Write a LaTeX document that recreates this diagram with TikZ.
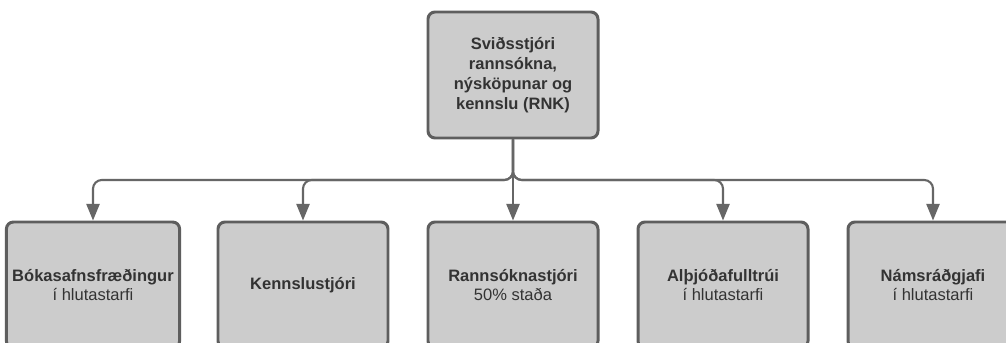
\documentclass[tikz,border=0pt]{standalone}
\usepackage{fontspec}
\setmainfont{Liberation Sans}
\usetikzlibrary{arrows.meta}
\definecolor{kassi}{HTML}{CCCCCC}
\definecolor{rammi}{HTML}{5E5E5E}
\definecolor{lina}{HTML}{666666}
\definecolor{letur}{HTML}{333333}

\begin{document}
\begin{tikzpicture}[line join=round,
    starf/.style={draw=rammi, fill=kassi, line width=1.7pt, rounded corners=4pt,
      minimum width=3.4cm, minimum height=2.52cm, align=center, text=letur,
      font=\fontsize{9.4}{11.3}\selectfont},
    tengi/.style={draw=lina, line width=1.2pt, rounded corners=5pt,
      -{Triangle[length=9.5pt, width=7.5pt]}}]
  \clip (0,0) rectangle (20.12,-6.84);
  \fill[white] (0,0) rectangle (20.12,-6.84);

  % Sviðsstjóri efst
  \node[starf] (svid) at (10.26,-1.5) {\textbf{Sviðsstjóri}\\\textbf{rannsókna,}\\\textbf{nýsköpunar og}\\\textbf{kennslu (RNK)}};
  \coordinate (greining) at (10.26,-3.6);

  % Starfsfólk undir
  \node[starf] (bokasafn) at (1.86,-5.7) {\textbf{Bókasafnsfræðingur}\\í hlutastarfi};
  \node[starf] (kennslu) at (6.06,-5.7) {\textbf{Kennslustjóri}};
  \node[starf] (rannsokn) at (10.26,-5.7) {\textbf{Rannsóknastjóri}\\50\% staða};
  \node[starf] (althjod) at (14.46,-5.7) {\textbf{Alþjóðafulltrúi}\\í hlutastarfi};
  \node[starf] (namsrad) at (18.66,-5.7) {\textbf{Námsráðgjafi}\\í hlutastarfi};

  % Tengingar
  \foreach \undir in {bokasafn,kennslu,rannsokn,althjod,namsrad}
    \draw[tengi] (svid.south) -- (greining) -| (\undir.north);
\end{tikzpicture}
\end{document}
